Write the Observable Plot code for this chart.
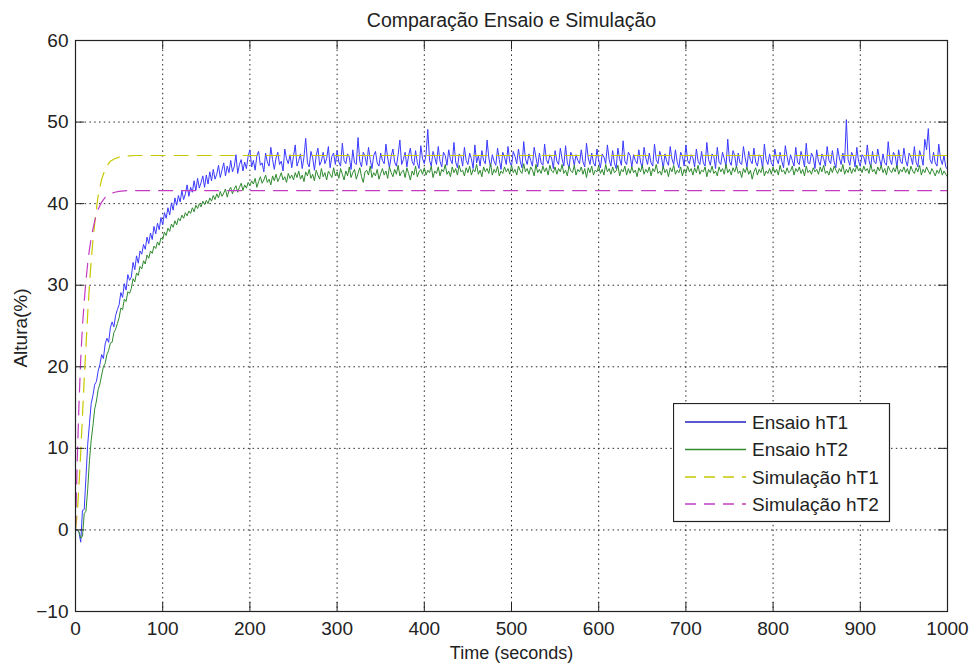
<!DOCTYPE html>
<html><head><meta charset="utf-8">
<script src="https://cdn.jsdelivr.net/npm/d3@7"></script>
<script src="https://cdn.jsdelivr.net/npm/@observablehq/plot@0.6"></script>
<style>
body{margin:0;background:#fff;font-family:"Liberation Sans",Arial,sans-serif}
#wrap{position:relative;width:974px;height:668px}
#legend{position:absolute;left:673px;top:403px}
</style>
</head><body><div id="wrap"></div>
<script>
const chartTitle = "Comparação Ensaio e Simulação";
const xLabel = "Time (seconds)";
const yLabel = "Altura(%)";
const seriesNames = ["Ensaio hT1", "Ensaio hT2", "Simulação hT1", "Simulação hT2"];
const xTicks = [0, 100, 200, 300, 400, 500, 600, 700, 800, 900, 1000];
const yTicks = [-10, 0, 10, 20, 30, 40, 50, 60];

// measured series, sampled every 2 s from t = 0 to 1000 (25 values per row = 50 s)
const ensaioTime = d3.range(0, 1001, 2);
const ensaioHT1 = [
0,0,-0.3,-1.5,2.4,2.5,6.5,10.5,13,15.5,16.5,17.8,18.2,19.5,20.3,21.5,21,22.8,23.5,23,24.8,25.5,24.9,26.3,27,
27.6,29.1,28.5,30.2,29.4,31.3,30.6,31.0,32.8,31.9,33.6,32.7,34.2,33.8,35.0,34.4,35.9,35.1,36.4,35.6,37.2,36.3,37.6,36.8,38.3,
37.4,38.9,38.2,39.5,38.6,40.1,39.2,40.7,39.8,41.0,40.2,41.6,40.5,41.2,42.3,40.9,42.0,41.4,42.8,41.6,43.1,41.9,42.6,43.4,42.0,
43.5,42.4,43.9,42.8,44.2,43.0,43.6,44.7,43.2,44.1,45.0,43.4,44.6,43.8,45.3,43.9,44.5,46.0,43.7,44.8,45.4,44.0,45.1,44.3,45.8,
46.6,44.5,45.3,44.1,45.9,46.4,44.7,45.0,43.9,46.2,45.1,44.6,46.9,45.4,44.2,45.6,46.3,44.8,45.2,44.0,46.7,45.5,44.9,46.0,44.4,
45.8,47.2,44.6,45.3,46.1,44.3,45.7,48.0,45.0,44.5,46.4,45.6,44.1,45.9,46.8,44.7,45.2,46.3,44.9,45.5,47.0,44.4,45.8,46.2,44.8,
46.5,45.1,44.6,47.4,45.3,44.9,46.1,45.7,44.2,46.6,45.0,44.8,48.1,45.2,44.5,46.3,45.8,44.7,46.9,45.4,44.3,45.9,46.4,45.0,44.6,
46.2,45.3,44.9,47.3,45.6,44.4,45.8,46.7,45.1,44.6,46.0,47.8,44.8,45.4,46.3,44.5,45.9,46.8,45.2,44.7,46.5,45.0,44.3,47.1,45.5,
44.9,46.0,49.1,45.3,44.6,46.4,45.7,44.8,47.0,45.2,44.5,46.3,45.9,44.7,46.6,45.4,44.9,47.5,45.1,44.4,46.1,45.8,44.6,46.9,45.3,
44.8,46.2,45.5,44.3,47.2,45.0,45.9,44.6,46.5,45.3,44.9,47.8,45.6,44.5,46.0,45.2,44.7,46.8,45.4,44.2,46.3,45.7,44.8,47.0,45.1,
44.6,46.4,45.8,44.9,46.7,45.2,44.4,47.6,45.5,44.8,46.1,45.3,44.6,46.9,45.7,44.5,46.2,45.0,44.7,47.3,45.4,44.9,46.0,45.6,44.3,
46.5,45.2,44.8,46.8,45.5,44.6,47.1,45.0,44.4,46.3,45.8,44.7,46.0,45.3,44.9,46.6,45.1,44.5,47.4,45.6,44.8,46.2,45.0,44.6,46.7,
45.3,44.4,46.1,45.7,44.9,47.2,45.4,44.6,46.5,45.0,44.3,46.8,45.5,44.7,47.7,45.2,44.8,46.3,45.9,44.5,46.0,45.3,44.9,46.6,45.1,
44.4,46.9,45.6,44.8,46.2,45.0,44.6,47.3,45.4,44.9,46.4,45.7,44.3,46.1,45.2,44.7,47.0,45.5,44.8,46.6,45.1,44.4,46.3,45.8,44.6,
47.2,45.3,44.9,46.0,45.6,44.5,46.7,45.2,44.8,46.4,45.0,44.6,47.5,45.4,44.7,46.1,45.8,44.3,46.9,45.1,44.8,46.3,45.5,44.6,47.9,
45.2,44.7,46.5,45.9,44.4,46.2,45.0,44.8,47.0,45.6,44.5,46.4,45.3,44.9,46.8,45.1,44.6,46.0,45.7,44.3,47.3,45.4,44.8,46.1,45.0,
44.6,46.7,45.5,44.9,46.3,45.2,44.4,47.1,45.8,44.7,46.0,45.3,44.6,46.9,45.1,44.8,46.4,45.6,44.5,47.4,45.0,44.9,46.2,45.7,44.3,
46.6,45.2,44.7,46.1,45.5,44.6,47.0,45.3,44.9,46.5,45.1,44.4,46.8,45.6,44.8,46.2,45.0,50.3,45.4,44.7,46.3,45.8,44.5,46.9,45.2,
44.6,46.0,45.7,44.8,47.2,45.3,44.5,46.4,45.1,44.9,46.7,45.5,44.6,46.1,45.0,44.7,47.6,45.4,44.8,46.3,45.9,44.4,46.6,45.2,44.9,
46.8,45.3,44.6,46.2,45.7,44.8,47.0,45.1,44.5,46.5,45.8,44.7,47.9,46.6,49.2,45.4,44.9,46.3,45.0,44.6,47.3,45.5,44.8,45.9,44.5,
44.2
];
const ensaioHT2 = [
0,0,-0.2,-1.0,-0.8,2.0,2.3,5.0,8.5,11,12.8,14.8,15.8,17.2,17.9,19.0,20.0,20.4,21.5,22.0,22.9,23.0,24.2,24.6,25.3,
26.0,27.2,27.0,28.3,28.0,29.2,29.0,29.6,30.8,30.4,31.5,31.2,32.3,32.0,33.0,32.6,33.7,33.3,34.2,33.9,34.8,34.5,35.3,34.9,35.8,
35.6,36.5,36.1,37.0,36.6,37.5,37.1,37.9,37.4,38.2,37.9,38.6,38.2,38.9,38.5,39.1,38.8,39.5,39.0,39.8,39.4,40.0,39.6,40.3,39.9,
40.4,40.0,40.7,40.3,41.0,40.5,41.2,40.7,41.5,40.9,41.3,41.8,40.8,41.6,42.0,41.2,41.8,42.2,41.4,42.0,42.5,41.6,42.3,41.9,42.6,
42.2,42.8,42.4,43.1,42.0,42.7,43.3,42.5,42.9,43.5,42.6,43.0,42.3,43.4,42.8,43.6,42.7,43.2,43.8,42.9,43.3,42.6,43.7,43.1,43.5,
42.9,43.8,43.2,44.0,43.0,43.5,42.7,43.9,43.4,44.2,43.1,43.6,42.8,44.1,43.5,43.0,44.3,43.3,43.8,42.9,44.0,43.6,43.2,44.4,43.4,
43.9,43.1,44.3,43.6,42.9,44.0,43.4,44.5,43.2,43.8,44.2,43.0,43.7,44.4,43.3,42.6,43.9,44.1,43.5,44.6,43.2,43.8,43.4,44.2,43.0,
43.7,44.3,43.5,44.0,43.1,44.5,43.8,43.3,44.2,43.6,44.7,43.4,43.9,44.1,43.2,44.4,43.7,42.9,44.0,43.5,44.6,43.3,43.9,44.2,43.6,
44.4,43.5,44.1,43.8,44.6,43.2,44.0,43.7,44.5,43.4,44.2,43.9,44.8,43.6,44.0,43.3,44.5,43.8,44.3,43.5,44.7,43.9,44.1,43.4,44.4,
43.8,44.6,43.5,44.2,43.9,44.8,43.6,44.1,43.3,44.5,43.9,44.3,43.7,44.9,43.5,44.2,43.8,44.6,43.4,44.0,43.7,44.5,43.9,44.3,43.6,
44.7,43.8,44.2,43.5,44.6,44.0,43.7,44.9,43.9,44.3,43.6,44.5,44.1,43.4,44.8,43.8,44.2,43.7,44.6,43.9,44.4,43.5,44.7,44.0,43.8,
44.5,43.6,44.3,43.9,44.8,43.7,44.1,43.4,44.6,44.0,43.8,44.7,43.5,44.2,43.9,44.5,43.6,44.3,43.2,44.4,43.8,44.6,43.5,44.1,43.9,
44.6,43.7,44.2,43.5,44.8,43.9,44.3,43.6,44.5,43.8,44.0,44.7,43.4,44.2,43.9,44.6,43.5,44.3,43.7,44.5,43.8,44.1,43.3,44.4,43.9,
44.7,43.6,44.2,43.8,44.5,43.4,44.3,43.9,44.8,43.7,44.0,43.5,44.6,43.8,44.2,43.3,44.4,43.9,44.7,43.6,44.1,43.8,44.5,43.4,44.2,
43.7,44.6,43.9,44.3,43.5,44.4,43.8,44.7,43.6,44.1,43.9,44.5,43.3,44.2,43.8,44.6,43.7,44.0,43.4,44.5,43.9,44.3,43.6,44.8,43.8,
44.2,43.5,44.4,43.9,44.6,43.7,44.0,43.2,44.3,43.8,44.5,43.6,44.1,43.0,43.9,44.4,43.5,44.2,43.8,44.6,43.4,44.0,43.7,44.3,43.6,
44.5,43.8,44.2,43.5,44.7,43.9,44.1,43.6,44.4,43.8,44.0,44.6,43.5,44.3,43.9,44.5,43.7,44.2,43.4,44.6,43.8,44.1,43.6,44.4,43.9,
44.2,43.6,44.5,43.9,44.7,43.7,44.0,43.5,44.4,43.8,44.6,44.1,43.7,44.3,43.9,44.8,43.6,44.2,43.8,44.5,43.7,44.3,43.9,44.7,44.0,
44.4,43.8,44.6,44.0,44.3,43.7,44.8,43.9,44.2,43.6,44.5,44.0,44.7,43.8,44.3,43.5,44.6,44.1,43.8,44.4,43.9,44.7,43.6,44.2,43.9,
44.5,43.8,44.3,43.6,44.6,44.0,43.7,44.4,43.9,44.7,43.5,44.2,43.8,44.5,44.0,43.6,44.3,43.9,43.4,44.1,43.7,44.4,43.5,44.0,43.6,
43.3
];

// simulated series
const simTime = [0,2,4,6,8,10,12,14,16,18,20,23,26,30,35,40,45,50,60,70,80,100,1000];
const simHT1 = [0,2,5.5,9.5,14,18.5,22.5,26.5,30,33,35.5,38.5,41,43,44.5,45.2,45.5,45.7,45.85,45.9,45.9,45.9,45.9];
const simHT2 = [0,8.5,15.5,21,25,28,30.6,32.7,34.4,35.8,36.9,38.3,39.3,40.2,40.9,41.2,41.4,41.5,41.6,41.6,41.6,41.6,41.6];

const colors = ["#3a3aff", "#2f8a2f", "#c8c800", "#c23cc2"];
const legendColors = ["#2020c0", "#2f8a2f", "#c8c800", "#c23cc2"];

const W = 974, H = 668, mT = 40, mB = 57, mL = 75, mR = 27;
const innerW = W - mL - mR, innerH = H - mT - mB;
const tickLen = 9;

const n1 = Math.min(ensaioTime.length, ensaioHT1.length);
const n2 = Math.min(ensaioTime.length, ensaioHT2.length);
const e1 = ensaioHT1.slice(0, n1).map((v, i) => ({t: ensaioTime[i], v}));
const e2 = ensaioHT2.slice(0, n2).map((v, i) => ({t: ensaioTime[i], v}));
const s1 = simTime.map((t, i) => ({t, v: simHT1[i]}));
const s2 = simTime.map((t, i) => ({t, v: simHT2[i]}));
const dash = "14,9";
const gridDash = "1.5,3.3";

const chart = Plot.plot({
  width: W, height: H,
  marginTop: mT, marginBottom: mB, marginLeft: mL, marginRight: mR,
  style: {fontFamily: "'Liberation Sans', Arial, sans-serif", fontSize: "19px", color: "#222", background: "#fff", overflow: "visible"},
  x: {domain: [0, 1000], label: null},
  y: {domain: [-10, 60], label: null},
  marks: [
    Plot.ruleX(xTicks.slice(1, -1), {stroke: "#000", strokeDasharray: gridDash, strokeOpacity: 0.85}),
    Plot.ruleY(yTicks.slice(1, -1), {stroke: "#000", strokeDasharray: gridDash, strokeOpacity: 0.85}),
    Plot.line(e1, {x: "t", y: "v", stroke: colors[0], strokeWidth: 1}),
    Plot.line(e2, {x: "t", y: "v", stroke: colors[1], strokeWidth: 1}),
    Plot.line(s1, {x: "t", y: "v", stroke: colors[2], strokeWidth: 1.2, strokeDasharray: dash}),
    Plot.line(s2, {x: "t", y: "v", stroke: colors[3], strokeWidth: 1.2, strokeDasharray: dash}),
    Plot.tickX(xTicks, {x: d => d, stroke: "#222", insetTop: innerH - tickLen}),
    Plot.tickX(xTicks, {x: d => d, stroke: "#222", insetBottom: innerH - tickLen}),
    Plot.tickY(yTicks, {y: d => d, stroke: "#222", insetRight: innerW - tickLen}),
    Plot.tickY(yTicks, {y: d => d, stroke: "#222", insetLeft: innerW - tickLen}),
    Plot.frame({stroke: "#222", strokeWidth: 1.2}),
    Plot.axisX(xTicks, {tickSize: 0, tickPadding: 10, tickFormat: "d", fontSize: 19, fill: "#222"}),
    Plot.axisY(yTicks, {tickSize: 0, tickPadding: 7, tickFormat: "d", fontSize: 19, fill: "#222"}),
    Plot.text([chartTitle], {text: d => d, frameAnchor: "top", lineAnchor: "middle", textAnchor: "middle", dy: -20, fontSize: 19.5, fill: "#222"}),
    Plot.text([xLabel], {text: d => d, frameAnchor: "bottom", lineAnchor: "middle", textAnchor: "middle", dy: 42, fontSize: 18, fill: "#222"}),
    Plot.text([yLabel], {text: d => d, frameAnchor: "left", lineAnchor: "middle", textAnchor: "middle", dx: -55, dy: 2, rotate: -90, fontSize: 19, fill: "#222"})
  ]
});
const wrap = document.getElementById("wrap");
wrap.appendChild(chart);

// legend box
const lg = d3.select(wrap).append("svg").attr("id", "legend").attr("width", 218).attr("height", 120);
lg.append("rect").attr("x", 0.5).attr("y", 0.5).attr("width", 216).attr("height", 118)
  .attr("fill", "#fff").attr("stroke", "#222").attr("stroke-width", 1.2);
const rowY = [19, 46.5, 74, 101];
seriesNames.forEach((name, i) => {
  lg.append("line").attr("x1", 12).attr("x2", 73).attr("y1", rowY[i]).attr("y2", rowY[i])
    .attr("stroke", legendColors[i]).attr("stroke-width", 1.3)
    .attr("stroke-dasharray", i >= 2 ? "11,8" : null);
  lg.append("text").attr("x", 79).attr("y", rowY[i]).attr("dy", "0.35em")
    .attr("font-size", 19).attr("fill", "#222")
    .attr("font-family", "'Liberation Sans', Arial, sans-serif").text(name);
});
</script>
</body></html>
